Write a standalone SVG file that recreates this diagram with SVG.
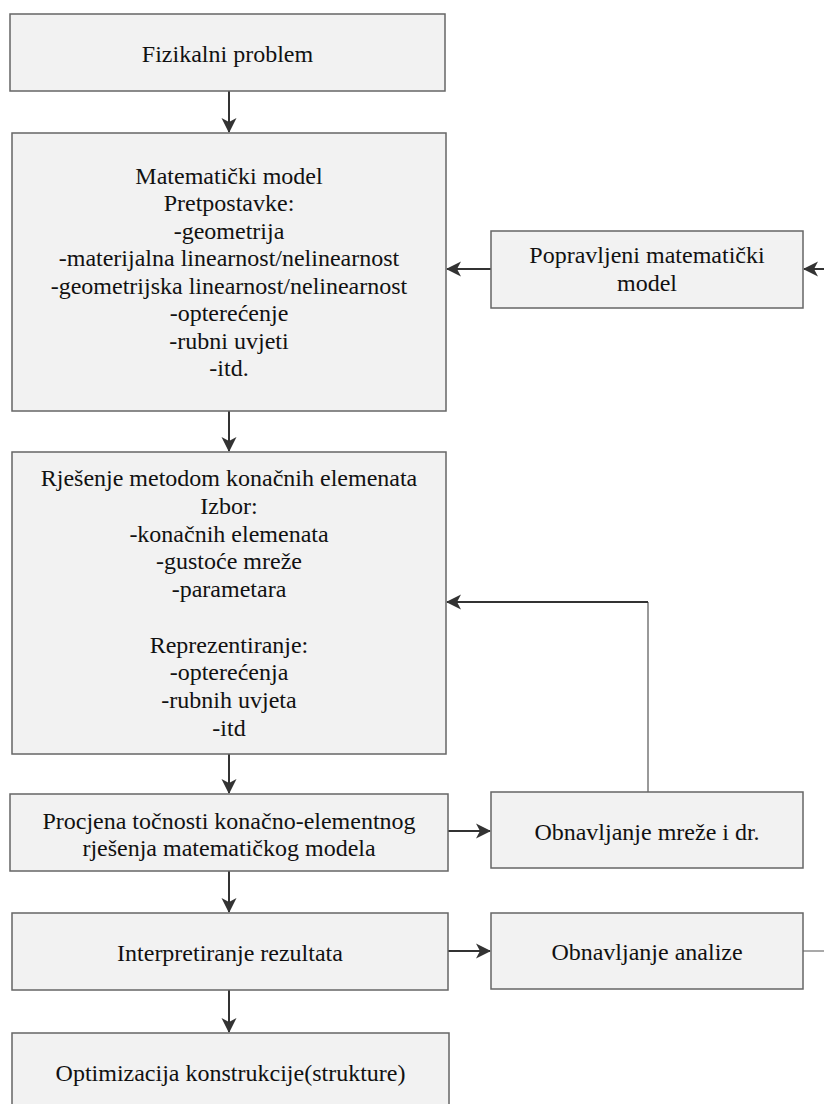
<svg xmlns="http://www.w3.org/2000/svg" width="824" height="1104" viewBox="0 0 824 1104">
<style>
.box{fill:#f2f2f2;stroke:#666;stroke-width:1.5}
.t{font-family:'Liberation Serif','DejaVu Serif','Noto Serif',serif;font-size:24px;fill:#111;text-anchor:middle}
.c{fill:none;stroke:#333;stroke-width:2}
.thin{fill:none;stroke:#555;stroke-width:1.2}
</style>
<defs>
<marker id="ah" markerUnits="userSpaceOnUse" markerWidth="16" markerHeight="16" viewBox="0 0 16 16" refX="15" refY="8" orient="auto">
<path d="M16,8 L1,0.5 L5,8 L1,15.5 Z" fill="#333"/>
</marker>
</defs>
<rect width="824" height="1104" fill="#fff"/>
<g id="connectors">
<line class="c" x1="229" y1="91" x2="229" y2="132" marker-end="url(#ah)"/>
<line class="c" x1="229" y1="411" x2="229" y2="451" marker-end="url(#ah)"/>
<line class="c" x1="229" y1="754" x2="229" y2="793" marker-end="url(#ah)"/>
<line class="c" x1="229" y1="871" x2="229" y2="912" marker-end="url(#ah)"/>
<line class="c" x1="229" y1="990" x2="229" y2="1032" marker-end="url(#ah)"/>
<line class="c" x1="491" y1="269" x2="447" y2="269" marker-end="url(#ah)"/>
<line class="c" x1="448" y1="831" x2="490" y2="831" marker-end="url(#ah)"/>
<line class="c" x1="448" y1="951" x2="490" y2="951" marker-end="url(#ah)"/>
<path class="thin" d="M648,792 V602"/>
<path class="c" d="M648,602 H447" marker-end="url(#ah)"/>
<path class="thin" d="M803,951 H832 V269"/>
<path class="c" d="M832,269 H804" marker-end="url(#ah)"/>
</g>
<g id="n1">
<rect class="box" x="10" y="14" width="435" height="77"/>
<text class="t" x="227.5" y="61.5">Fizikalni problem</text>
</g>
<g id="n2">
<rect class="box" x="12" y="133" width="434" height="278"/>
<text class="t" x="229" y="183.5">Matematički model</text>
<text class="t" x="229" y="211">Pretpostavke:</text>
<text class="t" x="229" y="238.5">-geometrija</text>
<text class="t" x="229" y="266">-materijalna linearnost/nelinearnost</text>
<text class="t" x="229" y="293.5">-geometrijska linearnost/nelinearnost</text>
<text class="t" x="229" y="321">-opterećenje</text>
<text class="t" x="229" y="348.5">-rubni uvjeti</text>
<text class="t" x="229" y="376">-itd.</text>
</g>
<g id="n3">
<rect class="box" x="491" y="231" width="312" height="77"/>
<text class="t" x="647" y="263">Popravljeni matematički</text>
<text class="t" x="647" y="290.5">model</text>
</g>
<g id="n4">
<rect class="box" x="12" y="452" width="434" height="302"/>
<text class="t" x="229" y="486.3">Rješenje metodom konačnih elemenata</text>
<text class="t" x="229" y="513.9">Izbor:</text>
<text class="t" x="229" y="541.5">-konačnih elemenata</text>
<text class="t" x="229" y="569.1">-gustoće mreže</text>
<text class="t" x="229" y="596.7">-parametara</text>
<text class="t" x="229" y="652.7">Reprezentiranje:</text>
<text class="t" x="229" y="680.2">-opterećenja</text>
<text class="t" x="229" y="707.8">-rubnih uvjeta</text>
<text class="t" x="229" y="735.6">-itd</text>
</g>
<g id="n5">
<rect class="box" x="10" y="794" width="438" height="77"/>
<text class="t" x="229" y="828.5">Procjena točnosti konačno-elementnog</text>
<text class="t" x="229" y="856">rješenja matematičkog modela</text>
</g>
<g id="n6">
<rect class="box" x="491" y="792" width="312" height="76"/>
<text class="t" x="647" y="840">Obnavljanje mreže i dr.</text>
</g>
<g id="n7">
<rect class="box" x="12" y="913" width="436" height="77"/>
<text class="t" x="230" y="960.5">Interpretiranje rezultata</text>
</g>
<g id="n8">
<rect class="box" x="491" y="913" width="312" height="76"/>
<text class="t" x="647" y="960">Obnavljanje analize</text>
</g>
<g id="n9">
<rect class="box" x="12" y="1033" width="437" height="77"/>
<text class="t" x="230.5" y="1081">Optimizacija konstrukcije(strukture)</text>
</g>
</svg>
